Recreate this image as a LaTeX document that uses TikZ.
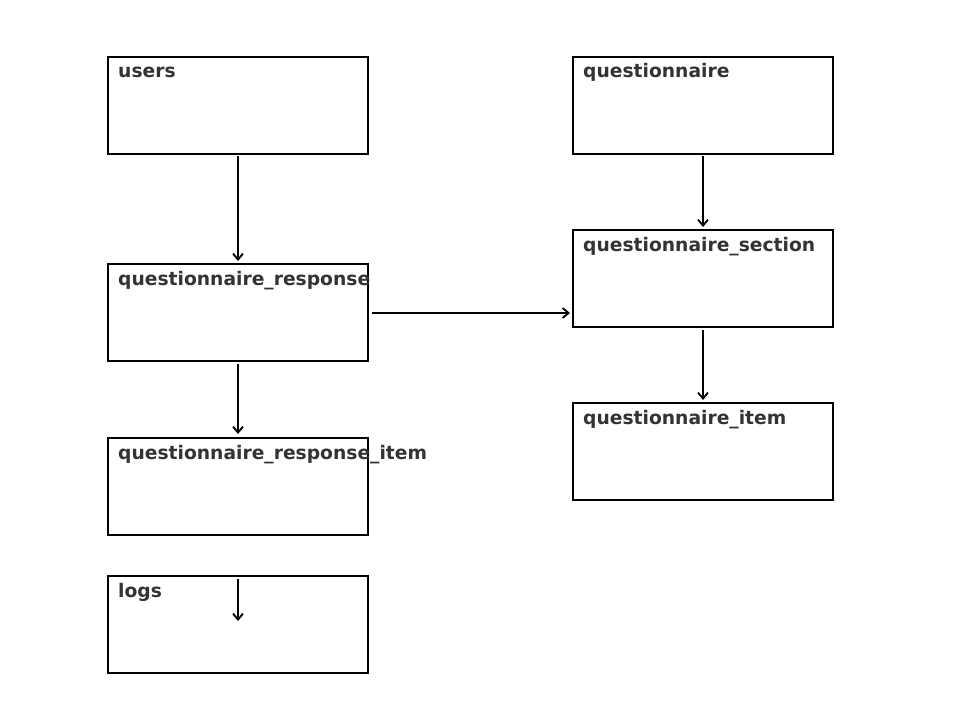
\documentclass[tikz,border=0pt]{standalone}
\usepackage{fontspec}
\setmainfont{DejaVu Sans}
\usetikzlibrary{arrows.meta}
\definecolor{txt}{HTML}{333333}
\begin{document}
\begin{tikzpicture}[x=1pt,y=-1pt,
  tbl/.style={draw=black,line width=2pt,minimum width=260pt,minimum height=97pt,anchor=north west,inner sep=0pt,outer sep=0pt},
  lbl/.style={anchor=base west,text=txt,font=\fontsize{18.7}{22}\selectfont\bfseries,inner sep=0pt},
  conn/.style={line width=2pt,-{Straight Barb[length=6pt,width=10pt,line width=1.8pt]}}]
\useasboundingbox[fill=white] (0,0) rectangle (959,723);
\node[tbl] (users) at (108,57) {};
\node[tbl] (quest) at (573,57) {};
\node[tbl] (resp) at (108,264) {};
\node[tbl] (sect) at (573,230) {};
\node[tbl] (item) at (573,403) {};
\node[tbl] (ritem) at (108,438) {};
\node[tbl] (logs) at (108,576) {};
\node[lbl] (lusers) at (118,77) {users};
\node[lbl] (lquest) at (583,77) {questionnaire};
\node[lbl] (lresp) at (118,285) {questionnaire\_response};
\node[lbl] (lsect) at (583,251) {questionnaire\_section};
\node[lbl] (litem) at (583,424) {questionnaire\_item};
\node[lbl] (lritem) at (118,459) {questionnaire\_response\_item};
\node[lbl] (llogs) at (118,597) {logs};
\coordinate (ls) at (238,579);
\coordinate (le) at (238,621);
\draw[conn] ([yshift=-2pt]users.south) -- ([yshift=3pt]resp.north);
\draw[conn] ([yshift=-2pt]quest.south) -- ([yshift=3pt]sect.north);
\draw[conn] ([xshift=4pt,yshift=-0.5pt]resp.east) -- ([xshift=-3pt,yshift=-0.5pt]resp.east -| sect.west);
\draw[conn] ([yshift=-3pt]resp.south) -- ([yshift=4pt]ritem.north);
\draw[conn] ([yshift=-3pt]sect.south) -- ([yshift=3pt]item.north);
\draw[conn] (ls) -- (le);
\end{tikzpicture}
\end{document}
